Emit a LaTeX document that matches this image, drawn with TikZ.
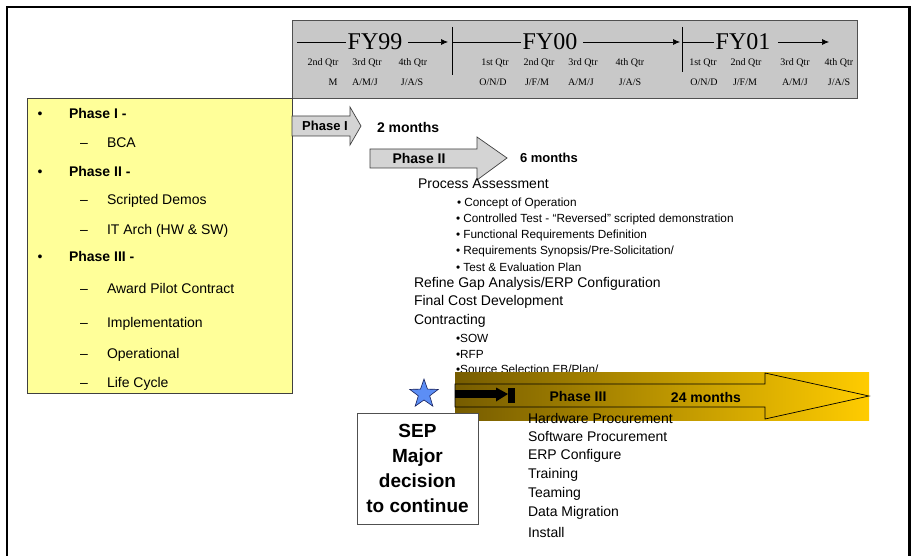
\documentclass[tikz,border=0pt]{standalone}
\usepackage{fontspec}
\setmainfont{Liberation Sans}
\newfontfamily\tms{Liberation Serif}
\usetikzlibrary{shapes.geometric,arrows.meta}
\definecolor{hdrgray}{RGB}{200,200,200}
\definecolor{hdrbord}{RGB}{80,80,80}
\definecolor{yel}{RGB}{255,255,153}
\definecolor{ybord}{RGB}{64,64,64}
\definecolor{arrgray}{RGB}{212,212,212}
\definecolor{gdark}{RGB}{118,92,0}
\definecolor{gbright}{RGB}{255,204,0}
\definecolor{starblue}{RGB}{92,142,245}
\definecolor{starbord}{RGB}{20,30,90}
\tikzset{
  fy/.style={font=\tms\fontsize{24}{24}\selectfont},
  qtr/.style={font=\tms\fontsize{10}{10}\selectfont},
  hline/.style={line width=0.7pt},
  harrow/.style={line width=0.7pt,-{Latex[length=7pt,width=6pt]}},
  ylist/.style={anchor=base west,font=\fontsize{14}{14}\selectfont},
  yhead/.style={anchor=base west,font=\bfseries\fontsize{14}{14}\selectfont},
  bul/.style={anchor=base,font=\fontsize{14}{14}\selectfont},
  grayarrow/.style={fill=arrgray,draw=ybord,line width=0.7pt},
  bigtxt/.style={anchor=west,font=\fontsize{14}{14}\selectfont},
  smalltxt/.style={anchor=west,font=\fontsize{11.8}{11.8}\selectfont},
  boldlab/.style={font=\bfseries\fontsize{14}{14}\selectfont},
  sepbox/.style={draw=hdrbord,fill=white,line width=0.8pt,minimum width=121pt,minimum height=111pt,align=center,font=\bfseries\fontsize{19}{24.8}\selectfont}
}
\begin{document}
\begin{tikzpicture}[x=1pt,y=-1pt,every node/.style={inner sep=0pt,outer sep=0pt}]
\useasboundingbox (0,0) rectangle (911,556);
\fill[white] (0,0) rectangle (911,556);
% page frame
\draw[line width=2.2pt] (7,560) -- (7,7) -- (909.5,7) -- (909.5,560);

% header
\draw[fill=hdrgray,draw=hdrbord,line width=0.8pt] (292,20) rectangle (857,98);
\node[fy] (fy99) at (375,42) {FY99};
\node[fy] (fy00) at (550,42) {FY00};
\node[fy] (fy01) at (743,42) {FY01};
\coordinate (l99a) at (297,42);
\coordinate (a99) at (448,42);
\coordinate (l00a) at (452,42);
\coordinate (a00) at (680,42);
\coordinate (l01a) at (682,42);
\coordinate (a01) at (829,42);
\draw[hline] (l99a) -- ([xshift=-2pt]fy99.west);
\draw[harrow] ([xshift=6pt]fy99.east) -- (a99);
\draw[hline] (l00a) -- ([xshift=-2pt]fy00.west);
\draw[harrow] ([xshift=6pt]fy00.east) -- (a00);
\draw[hline] (l01a) -- ([xshift=-2pt]fy01.west);
\draw[harrow] ([xshift=8pt]fy01.east) -- (a01);
\coordinate (v1t) at (452,27); \coordinate (v1b) at (452,75);
\coordinate (v2t) at (682,27); \coordinate (v2b) at (682,72);
\draw[line width=0.7pt] (v1t) -- (v1b);
\draw[line width=0.7pt] (v2t) -- (v2b);
% quarters
\node[qtr] (q1) at (323,63) {2nd Qtr};
\node[qtr] (q2) at (367,63) {3rd Qtr};
\node[qtr] (q3) at (413,63) {4th Qtr};
\node[qtr] (q4) at (495,63) {1st Qtr};
\node[qtr] (q5) at (539,63) {2nd Qtr};
\node[qtr] (q6) at (583,63) {3rd Qtr};
\node[qtr] (q7) at (630,63) {4th Qtr};
\node[qtr] (q8) at (703,63) {1st Qtr};
\node[qtr] (q9) at (746,63) {2nd Qtr};
\node[qtr] (q10) at (795,63) {3rd Qtr};
\node[qtr] (q11) at (839,63) {4th Qtr};
\node[qtr] (m1) at (333,82) {M};
\node[qtr] (m2) at (365,82) {A/M/J};
\node[qtr] (m3) at (412,82) {J/A/S};
\node[qtr] (m4) at (493,82) {O/N/D};
\node[qtr] (m5) at (537,82) {J/F/M};
\node[qtr] (m6) at (581,82) {A/M/J};
\node[qtr] (m7) at (630,82) {J/A/S};
\node[qtr] (m8) at (704,82) {O/N/D};
\node[qtr] (m9) at (745,82) {J/F/M};
\node[qtr] (m10) at (795,82) {A/M/J};
\node[qtr] (m11) at (839,82) {J/A/S};

% yellow box (baselines = visual centre + 5)
\draw[fill=yel,draw=ybord,line width=0.8pt] (27,98) rectangle (292,393);
\node[bul] (b1) at (40,119) {•};
\node[yhead] (p1) at (69,119) {Phase I -};
\node[bul] (d1) at (84,148) {–};
\node[ylist] (t1) at (107,148) {BCA};
\node[bul] (b2) at (40,177) {•};
\node[yhead] (p2) at (69,177) {Phase II -};
\node[bul] (d2) at (84,205) {–};
\node[ylist] (t2) at (107,205) {Scripted Demos};
\node[bul] (d3) at (84,235) {–};
\node[ylist] (t3) at (107,235) {IT Arch (HW \& SW)};
\node[bul] (b3) at (40,262) {•};
\node[yhead] (p3) at (69,262) {Phase III -};
\node[bul] (d4) at (84,294) {–};
\node[ylist] (t4) at (107,294) {Award Pilot Contract};
\node[bul] (d5) at (84,327) {–};
\node[ylist] (t5) at (107,327) {Implementation};
\node[bul] (d6) at (84,358) {–};
\node[ylist] (t6) at (107,358) {Operational};
\node[bul] (d7) at (84,387) {–};
\node[ylist] (t7) at (107,387) {Life Cycle};

% phase I and II arrows
\draw[grayarrow] (292,116) -- (350,116) -- (350,107) -- (361,126) -- (350,145) -- (350,136) -- (292,136) -- cycle;
\node[font=\bfseries\fontsize{13}{13}\selectfont] (ph1) at (325,126) {Phase I};
\node[anchor=west,boldlab] (m2mo) at (377,127) {2 months};
\draw[grayarrow] (370,149) -- (477,149) -- (477,137) -- (507,158) -- (477,180) -- (477,168) -- (370,168) -- cycle;
\node[boldlab] (ph2) at (419,158) {Phase II};
\node[anchor=west,font=\bfseries\fontsize{13}{13}\selectfont] (m6mo) at (520,158) {6 months};

% phase II text
\node[bigtxt] (pa) at (418,184) {Process Assessment};
\node[smalltxt] (s1) at (457,203) {• Concept of Operation};
\node[smalltxt] (s2) at (456,219) {• Controlled Test - “Reversed” scripted demonstration};
\node[smalltxt] (s3) at (456,235) {• Functional Requirements Definition};
\node[smalltxt] (s4) at (456,251) {• Requirements Synopsis/Pre-Solicitation/};
\node[smalltxt] (s5) at (456,267) {• Test \& Evaluation Plan};
\node[bigtxt] (rg) at (414,284) {Refine Gap Analysis/ERP Configuration};
\node[bigtxt] (fc) at (414,302) {Final Cost Development};
\node[bigtxt] (ct) at (414,321) {Contracting};
\node[smalltxt] (c1) at (456,338) {•SOW};
\node[smalltxt] (c2) at (456,354) {•RFP};
\node[smalltxt] (c3) at (456,369) {•Source Selection EB/Plan/};

% phase III arrow
\shade[left color=gdark,right color=gbright] (455,372) rectangle (869,420);
\draw[line width=0.7pt] (455,384) -- (765,384) -- (765,373) -- (869,396) -- (765,419) -- (765,407) -- (455,407) -- cycle;
\fill[black] (455,390) rectangle (497,398);
\fill[black] (496,387.5) -- (508,394) -- (496,401.5) -- cycle;
\fill[black] (508,387.5) rectangle (515,403);
\node[boldlab] (ph3) at (578,396) {Phase III};
\node[boldlab] (m24) at (706,397) {24 months};

% star and SEP box
\node[star,star points=5,star point ratio=2.5,minimum size=30pt,fill=starblue,draw=starbord,line width=0.6pt] (star) at (424,394) {};
\node[sepbox] (sep) at (417.5,468.5) {SEP\\Major\\decision\\to continue};

% phase III items
\node[bigtxt] (h1) at (528,418) {Hardware Procurement};
\node[bigtxt] (h2) at (528,437) {Software Procurement};
\node[bigtxt] (h3) at (528,456) {ERP Configure};
\node[bigtxt] (h4) at (528,475) {Training};
\node[bigtxt] (h5) at (528,494) {Teaming};
\node[bigtxt] (h6) at (528,513) {Data Migration};
\node[bigtxt] (h7) at (528,532) {Install};
\end{tikzpicture}
\end{document}
